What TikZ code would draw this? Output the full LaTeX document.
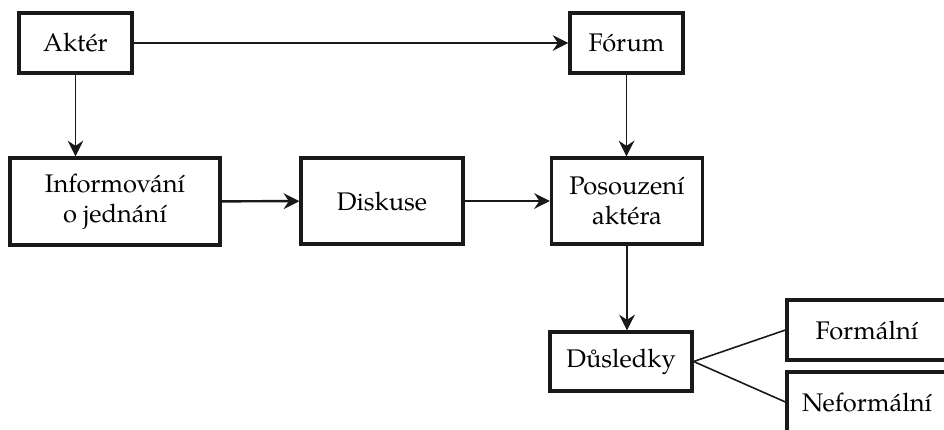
\documentclass[tikz,border=0pt]{standalone}
\usepackage{fontspec}
\setmainfont{TeX Gyre Pagella}
\usetikzlibrary{arrows.meta}

\tikzstyle{box} = [rectangle, draw=black!90, line width=1.8pt, align=center, inner sep=0pt, font=\fontsize{14.5}{17}\selectfont]
\tikzstyle{arrow} = [line width=0.9pt, draw=black!90, -{Stealth[length=9pt,width=9pt,inset=3pt]}]
\tikzstyle{thickarrow} = [arrow, line width=1.4pt]
\tikzstyle{link} = [line width=0.9pt, draw=black!90]

\begin{document}
\begin{tikzpicture}[x=0.2mm, y=-0.2mm]

\useasboundingbox (0,0) rectangle (944,429);
\clip (0,0) rectangle (944,429);

%% NODES

\node (akter) [box, minimum width=22.6mm, minimum height=12mm] at (75.5,43) {Aktér};
\node (forum) [box, minimum width=22.6mm, minimum height=12mm] at (626.5,43) {Fórum};
\node (info) [box, minimum width=42mm, minimum height=17.4mm] at (115,201.5) {Informování\\o jednání};
\node (diskuse) [box, minimum width=32.4mm, minimum height=17.2mm] at (382,201) {Diskuse};
\node (posouzeni) [box, minimum width=30.2mm, minimum height=17.2mm] at (627,201) {Posouzení\\aktéra};
\node (dusledky) [box, minimum width=28.4mm, minimum height=11.8mm] at (621,361.5) {Důsledky};
\node (formalni) [box, minimum width=32mm, minimum height=12mm] at (867,330) {Formální};
\node (neformalni) [box, minimum width=32mm, minimum height=12mm] at (867,402) {Neformální};

%% ARROWS

\draw [arrow] (akter) -- (forum);
\draw [arrow] (akter.south) -- (akter.south |- info.north);
\draw [thickarrow] (info) -- (diskuse);
\draw [arrow] (diskuse) -- (posouzeni);
\draw [arrow] (forum.south) -- (forum.south |- posouzeni.north);
\draw [arrow] (posouzeni.south) -- (posouzeni.south |- dusledky.north);
\draw [link] (dusledky.east) -- (formalni.west);
\draw [link] (dusledky.east) -- (neformalni.west);

\end{tikzpicture}
\end{document}
